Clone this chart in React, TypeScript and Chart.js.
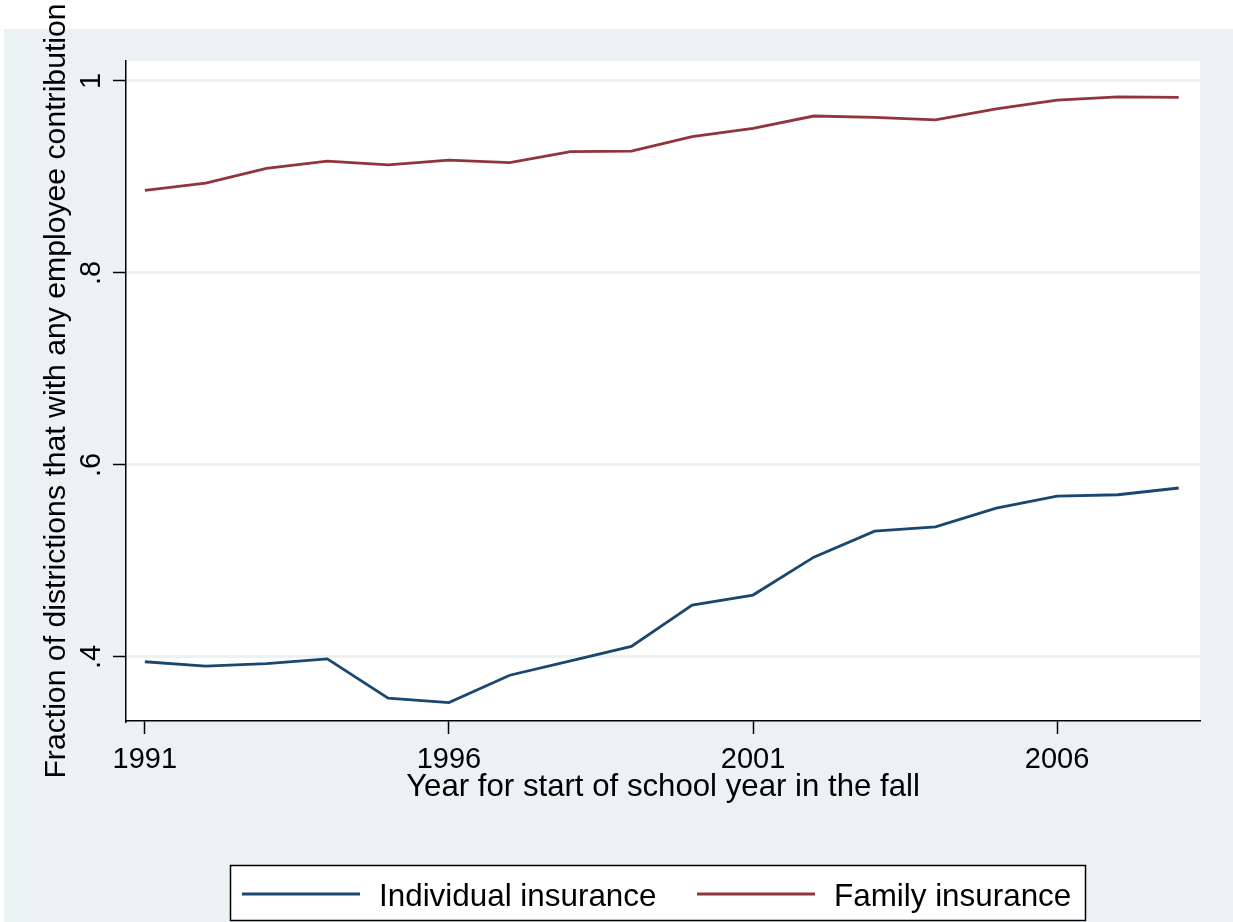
import React, { useEffect, useRef } from "react";
import { Chart, registerables } from "chart.js";

Chart.register(...registerables);

const years = [1991, 1992, 1993, 1994, 1995, 1996, 1997, 1998, 1999, 2000, 2001, 2002, 2003, 2004, 2005, 2006, 2007, 2008];
const individualInsurance = [0.395, 0.3905, 0.393, 0.398, 0.357, 0.3525, 0.381, 0.396, 0.411, 0.454, 0.4645, 0.504, 0.531, 0.5355, 0.555, 0.5675, 0.569, 0.576];
const familyInsurance = [0.886, 0.8935, 0.909, 0.9165, 0.9125, 0.9175, 0.915, 0.9265, 0.927, 0.942, 0.9505, 0.9635, 0.962, 0.9595, 0.971, 0.98, 0.9835, 0.983];
const xTicks = [1991, 1996, 2001, 2006];
const yTicks = [0.4, 0.6, 0.8, 1];
const yTickLabels = [".4", ".6", ".8", "1"];
const seriesNames = ["Individual insurance", "Family insurance"];
const seriesColors = ["#1A476F", "#90353B"];

const FONT = "'Liberation Sans', Arial, Helvetica, sans-serif";
const BG = "#EAF2F3";

const stataPlugin = {
  id: "stataDecor",
  beforeDraw(chart: any) {
    const { ctx, chartArea } = chart;
    ctx.save();
    ctx.fillStyle = "#ffffff";
    ctx.fillRect(0, 0, chart.width, chart.height);
    ctx.fillStyle = BG;
    ctx.fillRect(4, 29, chart.width - 4, chart.height - 29);
    ctx.fillStyle = "#ffffff";
    ctx.fillRect(chartArea.left, chartArea.top, chartArea.right - chartArea.left, chartArea.bottom - chartArea.top);
    ctx.restore();
  },
  afterDraw(chart: any) {
    const { ctx } = chart;
    const yScale = chart.scales.y;
    ctx.save();
    // rotated y tick labels
    ctx.fillStyle = "#000";
    ctx.font = `29px ${FONT}`;
    ctx.textAlign = "center";
    ctx.textBaseline = "alphabetic";
    yTicks.forEach((v, i) => {
      const py = yScale.getPixelForValue(v);
      ctx.save();
      ctx.translate(100, py);
      ctx.rotate(-Math.PI / 2);
      ctx.fillText(yTickLabels[i], 0, 0);
      ctx.restore();
    });
    // legend box
    const bx = 230, by = 865, bw = 855, bh = 55;
    ctx.fillStyle = "#ffffff";
    ctx.fillRect(bx, by, bw, bh);
    ctx.strokeStyle = "#000";
    ctx.lineWidth = 1.5;
    ctx.strokeRect(bx + 0.5, by + 0.5, bw, bh);
    const itemX = [242, 697];
    chart.data.datasets.forEach((ds: any, i: number) => {
      const lx = itemX[i];
      ctx.strokeStyle = ds.borderColor;
      ctx.lineWidth = 3;
      ctx.beginPath();
      ctx.moveTo(lx, 894);
      ctx.lineTo(lx + 118, 894);
      ctx.stroke();
      ctx.fillStyle = "#000";
      ctx.font = `31.4px ${FONT}`;
      ctx.textAlign = "left";
      ctx.textBaseline = "alphabetic";
      ctx.fillText(ds.label, lx + 137, 906);
    });
    ctx.restore();
  },
};

export default function App() {
  const canvasRef = useRef<HTMLCanvasElement | null>(null);

  useEffect(() => {
    document.body.style.margin = "0";
    const canvas = canvasRef.current;
    if (!canvas) return;
    const chart = new Chart(canvas, {
      type: "line",
      data: {
        datasets: [individualInsurance, familyInsurance].map((vals, s) => ({
          label: seriesNames[s],
          data: years.map((yr, i) => ({ x: yr, y: vals[i] })),
          borderColor: seriesColors[s],
          backgroundColor: seriesColors[s],
          borderWidth: 2.8,
          pointRadius: 0,
          tension: 0,
          fill: false,
        })),
      },
      options: {
        animation: false,
        responsive: false,
        devicePixelRatio: 1,
        layout: { padding: { top: 61, right: 33, left: 0, bottom: 0 } },
        plugins: {
          legend: { display: false },
          title: { display: false },
          tooltip: { enabled: false },
        },
        scales: {
          x: {
            type: "linear",
            min: 1990.69,
            max: 2008.35,
            afterBuildTicks: (scale: any) => {
              scale.ticks = xTicks.map((v) => ({ value: v }));
            },
            afterFit: (scale: any) => {
              scale.height = 201;
            },
            grid: {
              drawOnChartArea: false,
              drawTicks: true,
              tickLength: 13,
              tickColor: "#000",
              tickWidth: 1.5,
            },
            border: { display: true, color: "#000", width: 1.5 },
            ticks: {
              autoSkip: false,
              maxRotation: 0,
              minRotation: 0,
              padding: 9,
              color: "#000",
              font: { family: FONT, size: 29 },
              callback: (v: any) => String(v),
            },
            title: {
              display: true,
              text: "Year for start of school year in the fall",
              color: "#000",
              font: { family: FONT, size: 31.2 },
              padding: { top: 0, bottom: 115.5 },
            },
          },
          y: {
            type: "linear",
            min: 0.3333,
            max: 1.0208,
            afterBuildTicks: (scale: any) => {
              scale.ticks = yTicks.map((v) => ({ value: v }));
            },
            afterFit: (scale: any) => {
              scale.width = 126;
            },
            grid: {
              drawOnChartArea: true,
              color: BG,
              lineWidth: 3,
              drawTicks: true,
              tickLength: 13,
              tickColor: "#000",
              tickWidth: 1.5,
            },
            border: { display: true, color: "#000", width: 1.5 },
            ticks: { display: false },
            title: {
              display: true,
              text: "Fraction of districtions that with any employee contribution",
              color: "#000",
              font: { family: FONT, size: 30.2 },
              padding: { top: 38.7, bottom: 0 },
            },
          },
        },
      },
      plugins: [stataPlugin],
    } as any);
    return () => chart.destroy();
  }, []);

  return (
    <div style={{ width: 1233, height: 922 }}>
      <canvas ref={canvasRef} width={1233} height={922} style={{ display: "block", width: 1233, height: 922 }} />
    </div>
  );
}
